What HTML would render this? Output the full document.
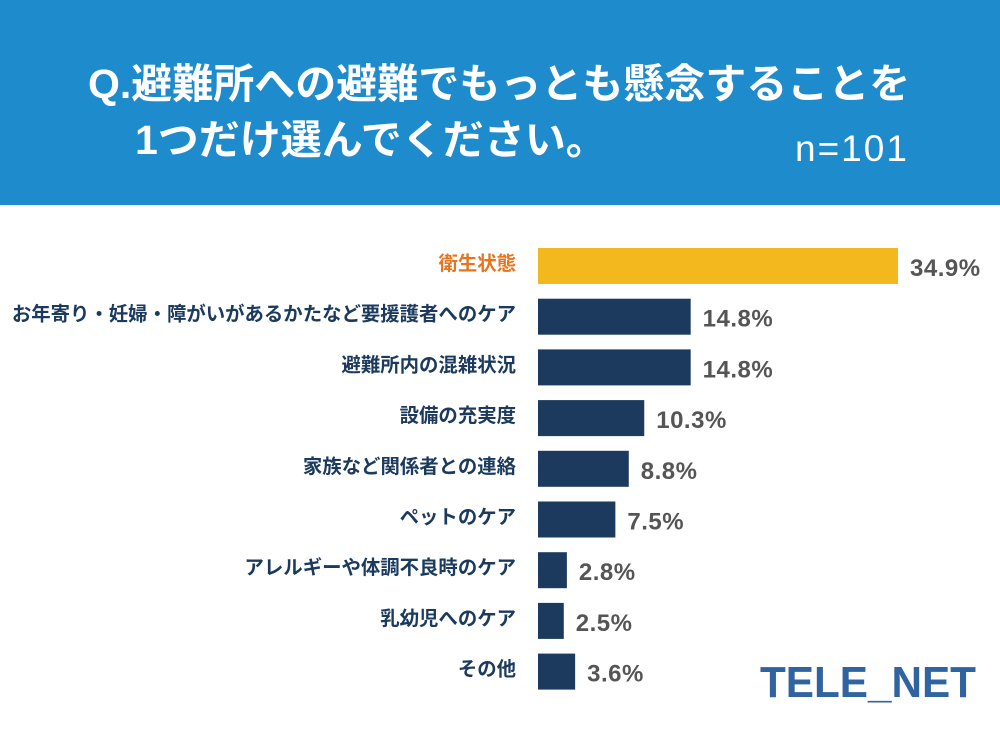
<!DOCTYPE html>
<html><head><meta charset="utf-8">
<style>
body{margin:0;width:1000px;height:740px;background:#fff;overflow:hidden;font-family:"Liberation Sans","Noto Sans CJK JP",sans-serif;}
#hdr{position:absolute;left:0;top:0;width:1000px;height:205px;background:#1E8BCD;}
.t{position:absolute;color:#fff;font-weight:bold;font-size:41px;white-space:nowrap;}
</style></head><body>
<div id="hdr">
<div class="t" style="left:88px;top:50px;">Q.避難所への避難でもっとも懸念することを</div>
<div class="t" style="left:135px;top:106px;">1つだけ選んでください。</div>
<div class="t" style="left:795px;top:128px;font-weight:normal;font-size:37px;letter-spacing:2px;">n=101</div>
</div>
<svg id="chart" width="1000" height="740" style="position:absolute;left:0;top:0"></svg>
<div style="position:absolute;left:760px;top:658px;font-size:44px;font-weight:bold;color:#2F64A0;transform:scaleX(0.96);transform-origin:left;">TELE_NET</div>
<script>
const categories=["衛生状態","お年寄り・妊婦・障がいがあるかたなど要援護者へのケア","避難所内の混雑状況","設備の充実度","家族など関係者との連絡","ペットのケア","アレルギーや体調不良時のケア","乳幼児へのケア","その他"];
const values=[34.9,14.8,14.8,10.3,8.8,7.5,2.8,2.5,3.6];
const labels=["34.9%","14.8%","14.8%","10.3%","8.8%","7.5%","2.8%","2.5%","3.6%"];
const svg=document.getElementById('chart');
const NS='http://www.w3.org/2000/svg';
const x0=538,scale=360/34.9;
function xPos(v){return x0+v*scale;}
function yPos(i){return 248+i*50.7;}
categories.forEach((c,i)=>{
  const y=yPos(i),hi=i===0;
  const r=document.createElementNS(NS,'rect');
  r.setAttribute('x',x0);r.setAttribute('y',y);r.setAttribute('width',xPos(values[i])-x0);r.setAttribute('height',36);
  r.setAttribute('fill',hi?'#F2B81E':'#1B3A5E');
  
  
  svg.appendChild(r);
  const t=document.createElementNS(NS,'text');
  t.setAttribute('x',516);t.setAttribute('y',y+22);t.setAttribute('text-anchor','end');
  t.setAttribute('font-size','19.4');t.setAttribute('font-weight','bold');
  t.setAttribute('fill',hi?'#E8741E':'#1B3A5E');
  t.textContent=c;
  
  
  svg.appendChild(t);
  const v=document.createElementNS(NS,'text');
  v.setAttribute('x',xPos(values[i])+12);v.setAttribute('y',y+28);
  v.setAttribute('font-size','24');v.setAttribute('font-weight','bold');v.setAttribute('fill','#555');
  v.setAttribute('letter-spacing','0.5');
  v.textContent=labels[i];
  
  
  svg.appendChild(v);
});
</script>
</body></html>
